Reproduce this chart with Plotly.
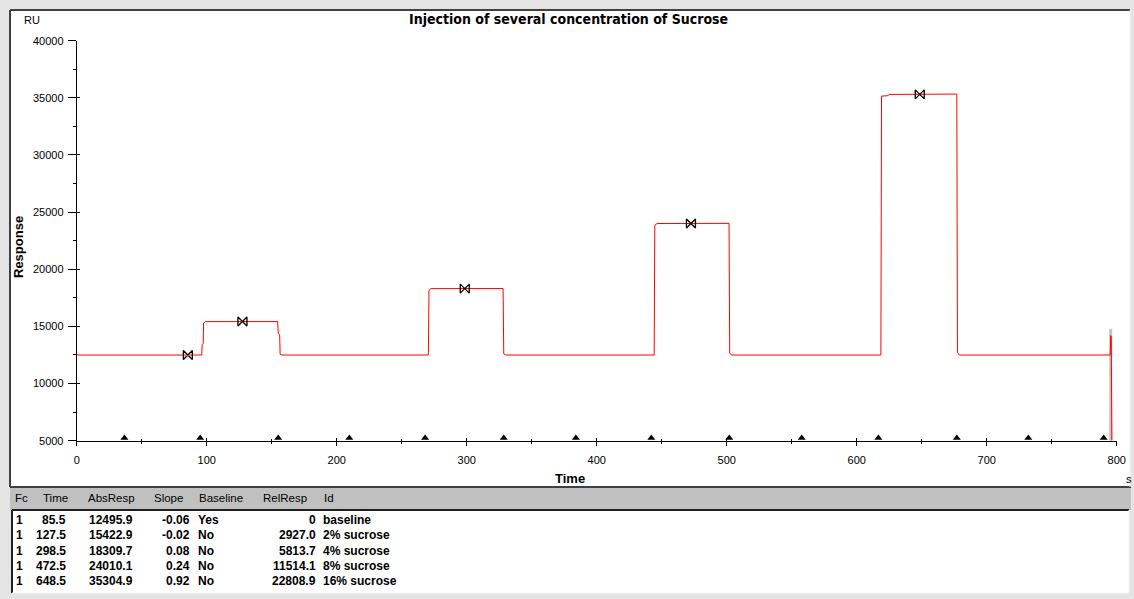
import plotly.graph_objects as go

W, H = 1134, 599

# ---------------- data ----------------
# sensorgram (time in s, response in RU)
sens_t = [0, 96.2, 96.5, 97.3, 97.6, 99.0, 154.6, 155.0, 156.1, 156.5, 158.0,
          270.5, 271.0, 272.5, 328.0, 328.5, 330.0,
          444.2, 444.7, 446.5, 501.8, 502.3, 504.0,
          618.6, 619.1, 624.0, 625.0, 677.0, 677.5, 679.0,
          795.0, 795.4, 795.8, 796.3]
sens_ru = [12496, 12496, 13400, 13500, 15300, 15420, 15424, 14400, 14300, 12560, 12496,
           12496, 18150, 18305, 18312, 12600, 12496,
           12496, 23850, 24005, 24016, 12650, 12496,
           12496, 35150, 35190, 35300, 35330, 12700, 12496,
           12496, 14200, 14100, 5000]

# grey reference spike at the end
grey_t = [795.4, 795.4]
grey_ru = [5000, 14800]

# event markers along the time axis
event_t = [36.7, 95, 155, 209.7, 268, 328.5, 384, 442, 502, 557.7, 616.7, 677, 732, 790]

# report points table
fc = [1, 1, 1, 1, 1]
rp_time = [85.5, 127.5, 298.5, 472.5, 648.5]
abs_resp = [12495.9, 15422.9, 18309.7, 24010.1, 35304.9]
slope = [-0.06, -0.02, 0.08, 0.24, 0.92]
baseline = ["Yes", "No", "No", "No", "No"]
rel_resp = [0, 2927.0, 5813.7, 11514.1, 22808.9]
ids = ["baseline", "2% sucrose", "4% sucrose", "8% sucrose", "16% sucrose"]

headers = ["Fc", "Time", "AbsResp", "Slope", "Baseline", "RelResp", "Id"]

x_range = [0, 800]
y_range = [5000, 40000]

# ---------------- helpers ----------------
def px(x):
    return x / W

def py(y):
    return 1 - y / H

FONT = "Liberation Sans, Arial, sans-serif"
NARROW = "Liberation Sans Narrow, Arial Narrow, DejaVu Sans Condensed, sans-serif"

fig = go.Figure()

fig.add_trace(go.Scatter(x=grey_t, y=grey_ru, mode="lines",
                         line=dict(color="#c4c4c4", width=3), hoverinfo="skip"))
fig.add_trace(go.Scatter(x=sens_t, y=sens_ru, mode="lines",
                         line=dict(color="#ff0000", width=1), hoverinfo="skip"))
fig.add_trace(go.Scatter(x=rp_time, y=abs_resp, mode="markers",
                         marker=dict(symbol="bowtie-open", size=9, color="black",
                                     line=dict(width=1.3, color="black")),
                         hoverinfo="skip"))
tri_offset = (y_range[1] - y_range[0]) * 0.007
fig.add_trace(go.Scatter(x=event_t, y=[y_range[0] + tri_offset] * len(event_t), mode="markers",
                         marker=dict(symbol="triangle-up", size=7, color="black"),
                         cliponaxis=False, hoverinfo="skip"))
# invisible trace to enable the overlay axes (inner tick stubs)
fig.add_trace(go.Scatter(x=x_range, y=y_range, xaxis="x2", yaxis="y2", mode="markers",
                         marker=dict(opacity=0), hoverinfo="skip"))

xdom = [px(76.7), px(1116.7)]
ydom = [py(440.7), py(40.7)]

common_tick = dict(tickcolor="black", tickwidth=1, showgrid=False, zeroline=False,
                   automargin=False, fixedrange=True)

fig.update_layout(
    width=W, height=H, margin=dict(l=0, r=0, t=0, b=0),
    template="none",
    paper_bgcolor="#e4e4e4", plot_bgcolor="white",
    showlegend=False,
    xaxis=dict(domain=xdom, range=x_range, anchor="y", showline=True, linecolor="black",
               linewidth=1, ticks="outside", ticklen=4, dtick=100, tick0=0,
               minor=dict(ticks="outside", ticklen=2, dtick=50, tickcolor="black"),
               tickfont=dict(family=FONT, size=11, color="black"),
               ticklabelstandoff=5, **common_tick),
    yaxis=dict(domain=ydom, range=y_range, anchor="x", showline=True, linecolor="black",
               linewidth=1, ticks="outside", ticklen=8, dtick=5000, tick0=0,
               tickformat="d",
               minor=dict(ticks="outside", ticklen=3, dtick=2500, tickcolor="black"),
               tickfont=dict(family=FONT, size=11, color="black"),
               ticklabelstandoff=2, **common_tick),
    xaxis2=dict(domain=xdom, range=x_range, overlaying="x", anchor="y2", side="bottom",
                ticks="inside", ticklen=3, dtick=100, tick0=0, showticklabels=False,
                minor=dict(ticks="inside", ticklen=2, dtick=50, tickcolor="black"),
                showline=False, **common_tick),
    yaxis2=dict(domain=ydom, range=y_range, overlaying="y", anchor="x2", side="left",
                ticks="inside", ticklen=3, dtick=5000, tick0=0, showticklabels=False,
                showline=False, **common_tick),
)

# ---------------- panels ----------------
shapes = []
# chart panel
shapes.append(dict(type="rect", xref="paper", yref="paper", x0=px(10), x1=px(1130),
                   y0=py(487), y1=py(10), fillcolor="white", line=dict(width=0), layer="below"))
# header band
shapes.append(dict(type="rect", xref="paper", yref="paper", x0=px(10), x1=px(1131),
                   y0=py(510), y1=py(488), fillcolor="#c0c0c0", line=dict(width=0), layer="below"))
# table panel
shapes.append(dict(type="rect", xref="paper", yref="paper", x0=px(12), x1=px(1129),
                   y0=py(593), y1=py(510), fillcolor="white", line=dict(width=0), layer="below"))
# dark borders
for (x0, y0, x1, y1, c, w) in [
    (10, 10, 1130, 10, "#404040", 2),
    (10, 10, 10, 487, "#404040", 2),
    (10, 487, 1131, 487, "#404040", 2),
    (12, 510, 1129, 510, "#202020", 2),
    (12, 510, 12, 593, "#202020", 2),
    (1130, 10, 1130, 487, "#f4f4f4", 1),
    (1129, 510, 1129, 593, "#f4f4f4", 1),
    (12, 593, 1129, 593, "#f4f4f4", 1),
]:
    shapes.append(dict(type="line", xref="paper", yref="paper", x0=px(x0), x1=px(x1),
                       y0=py(y0), y1=py(y1), line=dict(color=c, width=w), layer="below"))
fig.update_layout(shapes=shapes)

# ---------------- texts ----------------
ann = []
def text(x, y, s, size=11, bold=False, xanchor="left", family=FONT, angle=0):
    ann.append(dict(xref="paper", yref="paper", x=px(x), y=py(y), text=f"<b>{s}</b>" if bold else s,
                    showarrow=False, xanchor=xanchor, yanchor="middle", textangle=angle,
                    font=dict(family=family, size=size, color="black")))

text(568.5, 19, "Injection of several concentration of Sucrose", size=14, bold=True,
     xanchor="center", family=NARROW)
text(22, 20, "RU", size=11)
text(18, 247, "Response", size=13, bold=True, xanchor="center", angle=-90)
text(570, 478, "Time", size=13, bold=True, xanchor="center")
text(1124, 479, "s", size=11)

hdr_x = [13, 41, 86, 152, 197, 261, 322]
for hx, h in zip(hdr_x, headers):
    text(hx, 498, h, size=11.5)

row_y0, row_dy = 520, 15.25
for i in range(len(fc)):
    yy = row_y0 + i * row_dy
    text(25, yy, str(fc[i]), size=12, bold=True, xanchor="right")
    text(68, yy, f"{rp_time[i]:.1f}", size=12, bold=True, xanchor="right")
    text(135, yy, f"{abs_resp[i]:.1f}", size=12, bold=True, xanchor="right")
    text(192, yy, f"{slope[i]:.2f}", size=12, bold=True, xanchor="right")
    text(196, yy, baseline[i], size=12, bold=True)
    rr = "0" if rel_resp[i] == 0 else f"{rel_resp[i]:.1f}"
    text(318, yy, rr, size=12, bold=True, xanchor="right")
    text(321, yy, ids[i], size=12, bold=True)

fig.update_layout(annotations=ann)

fig.write_html(
    "out.html",
    config={"displayModeBar": False, "staticPlot": True},
    post_script="document.body.style.margin='0';document.body.style.overflow='hidden';"
                "document.body.style.background='#e4e4e4';",
)
